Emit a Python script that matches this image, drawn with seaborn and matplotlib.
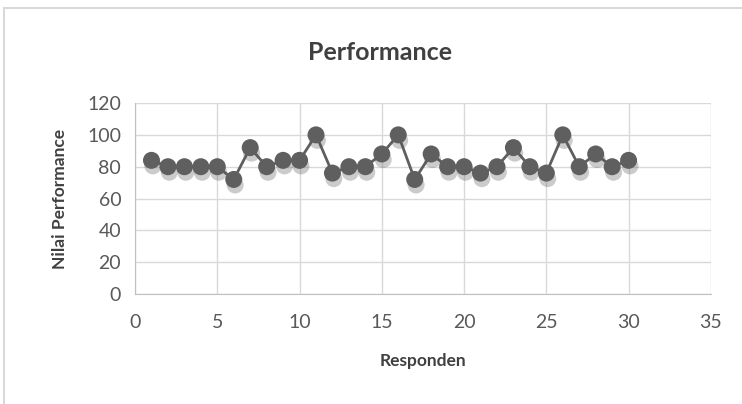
import pandas as pd
import seaborn as sns
import matplotlib.pyplot as plt
import matplotlib.patheffects as pe
from matplotlib.patches import Rectangle

# values
responden = list(range(1, 31))
nilai = [84, 80, 80, 80, 80, 72, 92, 80, 84, 84,
         100, 76, 80, 80, 88, 100, 72, 88, 80, 80,
         76, 80, 92, 80, 76, 100, 80, 88, 80, 84]
xticks = [0, 5, 10, 15, 20, 25, 30, 35]
yticks = [0, 20, 40, 60, 80, 100, 120]

df = pd.DataFrame({"Responden": responden, "Nilai": nilai})

sns.set_style("white")
plt.rcParams["font.family"] = ["Lato", "DejaVu Sans"]

fig = plt.figure(figsize=(7.42, 4.04), dpi=100)
ax = fig.add_axes([0.182, 0.272, 0.776, 0.473])

# chart border
fig.patches.append(Rectangle((4 / 742, -0.01), 1.0, (404 - 8) / 404 + 0.01,
                             transform=fig.transFigure, fill=False,
                             edgecolor="#d9d9d9", linewidth=1.5))

grey = "#5f5f5f"
sns.lineplot(data=df, x="Responden", y="Nilai", ax=ax, color=grey,
             linewidth=2)
sns.scatterplot(data=df, x="Responden", y="Nilai", ax=ax, color=grey,
                s=150, edgecolor=grey, linewidth=0, zorder=3,
                path_effects=[pe.SimplePatchShadow(offset=(1, -4), alpha=0.3,
                                                   shadow_rgbFace="#555555"),
                              pe.Normal()])

ax.set_xlim(0, 35)
ax.set_ylim(0, 120)
ax.set_xticks(xticks)
ax.set_yticks(yticks)
ax.grid(True, color="#d9d9d9", linewidth=1)
ax.set_axisbelow(True)
for name, sp in ax.spines.items():
    sp.set_visible(name in ("left", "bottom"))
    sp.set_color("#bfbfbf")
ax.tick_params(length=0, labelsize=14, labelcolor="#595959", pad=10)
ax.tick_params(axis="x", pad=14)

# title is centred on the whole chart, not on the plot area
fig.suptitle("Performance", x=0.512, y=1 - 52 / 404, va="center",
             fontsize=18, fontweight="bold", color="#404040")
ax.set_xlabel("Responden", fontsize=12.5, fontweight="bold", color="#404040", labelpad=16)
ax.set_ylabel("Nilai Performance", fontsize=12.5, fontweight="bold", color="#404040", labelpad=14)

fig.savefig("out.png", dpi=100)
